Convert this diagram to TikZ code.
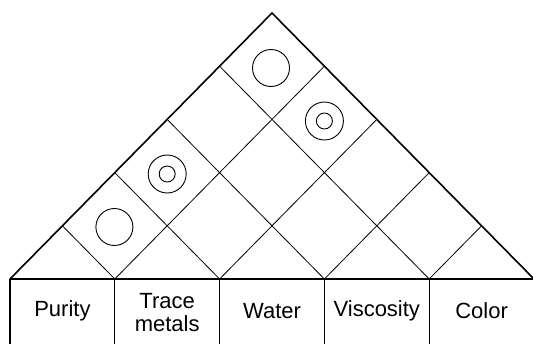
\documentclass[tikz,border=0pt]{standalone}
\usepackage{fontspec}
\setmainfont{Liberation Sans}
\usetikzlibrary{calc}
\tikzset{
  roof/.style={line width=1.6pt, line join=miter},
  grid/.style={line width=0.8pt},
  tbl/.style={line width=1.2pt},
  lbl/.style={font=\fontsize{22}{23}\selectfont, align=center, inner sep=0pt},
  ring/.style={circle, draw, line width=0.9pt, inner sep=0pt},
}
\begin{document}
\begin{tikzpicture}[x=1pt,y=-1pt]
\useasboundingbox (0,0) rectangle (533,343);
\clip (0,0) rectangle (533,343);
\fill[white] (0,0) rectangle (533,343);
% key points
\coordinate (A) at (272,13);
\coordinate (L) at (10,279);
\coordinate (R) at (534,279);
\foreach \i in {0,...,5} {
  \coordinate (b\i) at ($(L)!\i/5!(R)$);
}
% grid lines of the roof
\foreach \i in {1,...,4} {
  \coordinate (l\i) at ($(L)!\i/5!(A)$);
  \coordinate (r\i) at ($(R)!{(5-\i)/5}!(A)$);
  \draw[grid] (b\i) -- (l\i);
  \draw[grid] (b\i) -- (r\i);
}
% roof outline
\draw[roof] (L) -- (A) -- (R);
% table
\draw[tbl] (L) -- (R);
\foreach \i in {0,...,5} {
  \coordinate (t\i) at ($(b\i)+(0,80)$);
  \draw[tbl] (b\i) -- (t\i);
}
% labels
\node[lbl] (purity) at (62.4,311) {Purity};
\node[lbl] (trace) at (167.2,313) {Trace\\metals};
\node[lbl] (water) at (272,311) {Water};
\node[lbl] (visc) at (376.8,311) {Viscosity};
\node[lbl] (color) at (481.6,311) {Color};
% correlation symbols
\node[ring, minimum size=37pt] (c1) at (114.4,227) {};
\node[ring, minimum size=38pt] (c2o) at (167.2,174) {};
\node[ring, minimum size=16pt] (c2i) at (167.2,174) {};
\node[ring, minimum size=37pt] (c3) at (271,68) {};
\node[ring, minimum size=38pt] (c4o) at (324.4,121) {};
\node[ring, minimum size=16pt] (c4i) at (324.4,121) {};
\end{tikzpicture}
\end{document}
